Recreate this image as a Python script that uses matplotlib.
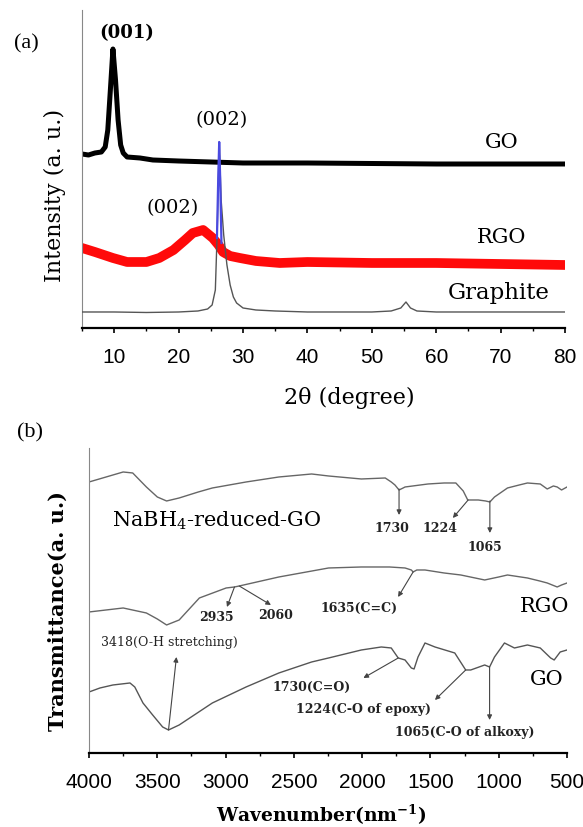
import numpy as np
import matplotlib
matplotlib.use("Agg")
import matplotlib.pyplot as plt
from matplotlib.ticker import MultipleLocator

plt.rcParams['mathtext.default'] = 'regular'

# ---- (a) XRD data (2theta in degree, intensity in a.u.) ----
go_x = [5, 6, 7, 8, 8.6, 9.0, 9.4, 9.8, 10.2, 10.6, 11.0, 11.4, 12, 14, 16, 20, 25, 30, 40, 60, 80]
go_y = [174, 173, 175, 176, 181, 198, 238, 279, 248, 208, 183, 175, 171, 170, 168, 167, 166, 165, 165, 164, 164]

rgo_x = [5, 7, 9.8, 12, 15, 17, 19.2, 21, 22.2, 23.8, 25.3, 26.2, 26.9, 28, 29.5, 32, 35.7, 40, 50, 60, 70, 80]
rgo_y = [80, 76, 70, 66, 66, 70, 78, 88, 95, 98, 90, 83, 76, 72, 70, 67, 65, 66, 65, 65, 64, 63]

gr_x = [5, 10, 15, 20, 23, 24.5, 25.2, 25.7, 26.0, 26.3, 26.6, 27.0, 27.5, 28.0, 28.5, 29, 30, 32, 35, 40,
        50, 53, 54.5, 55.3, 56, 57, 60, 80]
gr_y = [16, 16, 15.5, 16, 17, 19, 23, 38, 98, 186, 128, 93, 63, 43, 31, 25, 20, 18, 17, 16,
        16, 17, 20, 26, 20, 17, 16, 16]

gr_peak_x = [25.95, 26.15, 26.3, 26.45, 26.65]
gr_peak_y = [90, 150, 186, 150, 85]

# ---- (b) FTIR data (wavenumber, transmittance a.u.) ----
nab_x = [4000, 3750, 3680, 3580, 3500, 3432, 3340, 3200, 3097, 2850, 2610, 2370, 2246, 2006, 1831, 1787,
         1760, 1730, 1700, 1686, 1518, 1400, 1314, 1260, 1227, 1150, 1096, 1065, 1031, 936, 850, 790,
         696, 645, 600, 572, 540, 500]
nab_y = [271, 281, 280, 266, 256, 252, 255, 261, 265, 271, 276, 279, 277, 274, 275, 271,
         268, 263, 265, 266, 269, 270, 270, 262, 253, 253, 252, 251, 256, 265, 268, 270,
         269, 264, 267, 266, 263, 266]

rgo_ir_x = [4000, 3750, 3580, 3500, 3432, 3340, 3192, 2996, 2935, 2900, 2610, 2246, 2006, 1800, 1686,
            1640, 1627, 1600, 1540, 1400, 1278, 1103, 1000, 936, 790, 700, 645, 572, 540, 500]
rgo_ir_y = [141, 145, 140, 134, 128, 133, 155, 165, 166, 167, 176, 185, 186, 186, 185,
            183, 181, 183, 183, 180, 178, 173, 176, 178, 175, 172, 170, 166, 168, 170]

go_ir_x = [4000, 3920, 3825, 3700, 3665, 3605, 3534, 3461, 3418, 3340, 3097, 2850, 2610, 2370, 2246,
           2006, 1860, 1787, 1736, 1686, 1640, 1620, 1591, 1540, 1467, 1322, 1242, 1205, 1103, 1067,
           1031, 958, 885, 790, 696, 620, 594, 550, 500]
go_ir_y = [61, 65, 68, 70, 66, 50, 38, 26, 23, 28, 50, 66, 80, 91, 95,
           103, 106, 105, 95, 93, 85, 84, 96, 110, 106, 100, 83, 83, 88, 86,
           96, 110, 105, 108, 105, 95, 93, 101, 103]

# annotations: text, text position, arrow start (on curve), arrow end, bold
ir_notes = [
    ("1730", (1780, 224), (1730, 264), (1730, 238), True),
    ("1224", (1431, 224), (1224, 253), (1336, 235), True),
    ("1065", (1103, 205), (1065, 252), (1065, 220), True),
    ("2935", (3068, 135), (2935, 166), (2990, 146), True),
    ("2060", (2632, 137), (2900, 167), (2668, 148), True),
    ("1635(C=C)", (2020, 145), (1627, 181), (1737, 156), True),
    ("3418(O-H stretching)", (3410, 110), (3418, 23), (3360, 96), False),
    ("1730(C=O)", (2370, 66), (1736, 95), (1991, 75), True),
    ("1224(C-O of epoxy)", (1991, 43), (1242, 83), (1467, 53), True),
    ("1065(C-O of alkoxy)", (1249, 20), (1067, 86), (1067, 33), True),
]

serif = "DejaVu Serif"

fig = plt.figure(figsize=(5.83, 8.27), dpi=100)

# ---------- panel (a) ----------
ax1 = fig.add_axes([0.1407, 0.6034, 0.8285, 0.3845])
ax1.plot(go_x, go_y, color="black", lw=3.6, zorder=2)
ax1.plot(rgo_x, rgo_y, color="#ff0a0a", lw=7.0, zorder=2)
ax1.plot(gr_x, gr_y, color="#555555", lw=1.0, zorder=3)
ax1.plot(gr_peak_x, gr_peak_y, color="#4a4ae0", lw=1.6, zorder=4)
ax1.set_xlim(5, 80)
ax1.set_ylim(0, 318)
ax1.spines["top"].set_visible(False)
ax1.spines["right"].set_visible(False)
ax1.spines["left"].set_color("#888888")
ax1.spines["left"].set_linewidth(0.8)
ax1.spines["bottom"].set_linewidth(1.6)
ax1.set_yticks([])
ax1.xaxis.set_major_locator(MultipleLocator(10))
ax1.xaxis.set_minor_locator(MultipleLocator(5))
ax1.tick_params(axis="x", which="major", direction="out", length=3.5, width=1.2, pad=11,
                labelsize=15, labelfontfamily="Liberation Sans")
ax1.tick_params(axis="x", which="minor", direction="out", length=2.5, width=1.0)
ax1.set_xticks([10, 20, 30, 40, 50, 60, 70, 80])
ax1.set_xlabel("2θ (degree)", family=serif, fontsize=16, va="center")
ax1.xaxis.set_label_coords(0.553, -0.220)
ax1.set_ylabel("Intensity (a. u.)", family=serif, fontsize=16, va="center")
ax1.yaxis.set_label_coords(-0.056, 0.418)

ax1.text(12.0, 295, "(001)", family=serif, fontsize=13, weight="bold", ha="center", va="center")
ax1.text(26.7, 208, "(002)", family=serif, fontsize=14, ha="center", va="center")
ax1.text(19.1, 120, "(002)", family=serif, fontsize=14, ha="center", va="center")
ax1.text(70.1, 185, "GO", family=serif, fontsize=15, ha="center", va="center")
ax1.text(70.2, 90, "RGO", family=serif, fontsize=15, ha="center", va="center")
ax1.text(69.7, 35, "Graphite", family=serif, fontsize=16.5, ha="center", va="center")

# ---------- panel (b) ----------
ax2 = fig.add_axes([0.1527, 0.0895, 0.8199, 0.3688])
ax2.plot(nab_x, nab_y, color="#666666", lw=1.0)
ax2.plot(rgo_ir_x, rgo_ir_y, color="#666666", lw=1.0)
ax2.plot(go_ir_x, go_ir_y, color="#555555", lw=1.0)
ax2.set_xlim(4000, 500)
ax2.set_ylim(0, 305)
ax2.spines["top"].set_visible(False)
ax2.spines["right"].set_visible(False)
ax2.spines["left"].set_color("#888888")
ax2.spines["left"].set_linewidth(0.8)
ax2.spines["bottom"].set_linewidth(1.6)
ax2.set_yticks([])
ax2.xaxis.set_major_locator(MultipleLocator(500))
ax2.xaxis.set_minor_locator(MultipleLocator(250))
ax2.tick_params(axis="x", which="major", direction="out", length=3.5, width=1.2, pad=11,
                labelsize=15, labelfontfamily="Liberation Sans")
ax2.tick_params(axis="x", which="minor", direction="out", length=2.5, width=1.0)
ax2.set_xlabel("Wavenumber(nm$^{-1}$)", family=serif, fontsize=13.5, weight="bold", va="center")
ax2.xaxis.set_label_coords(0.485, -0.203)
ax2.set_ylabel("Transmittance(a. u.)", family=serif, fontsize=15, weight="bold", va="center")
ax2.yaxis.set_label_coords(-0.065, 0.466)

ax2.text(3068, 232, "NaBH$_4$-reduced-GO", family=serif, fontsize=15, ha="center", va="center")
ax2.text(667, 146, "RGO", family=serif, fontsize=15, ha="center", va="center")
ax2.text(652, 73, "GO", family=serif, fontsize=15, ha="center", va="center")

for txt, pos, start, end, bold in ir_notes:
    ax2.text(pos[0], pos[1], txt, family=serif, fontsize=9,
             weight="bold" if bold else "normal", ha="center", va="center", color="#222222")
    ax2.annotate("", xy=end, xytext=start,
                 arrowprops=dict(arrowstyle="-|>", color="#444444", lw=0.8,
                                 mutation_scale=7, shrinkA=0, shrinkB=0))

fig.text(26 / 583, 1 - 44 / 827, "(a)", family="Liberation Serif", fontsize=16, ha="center", va="center")
fig.text(30 / 583, 1 - 433 / 827, "(b)", family="Liberation Serif", fontsize=16, ha="center", va="center")

fig.savefig("out.png", dpi=100)
